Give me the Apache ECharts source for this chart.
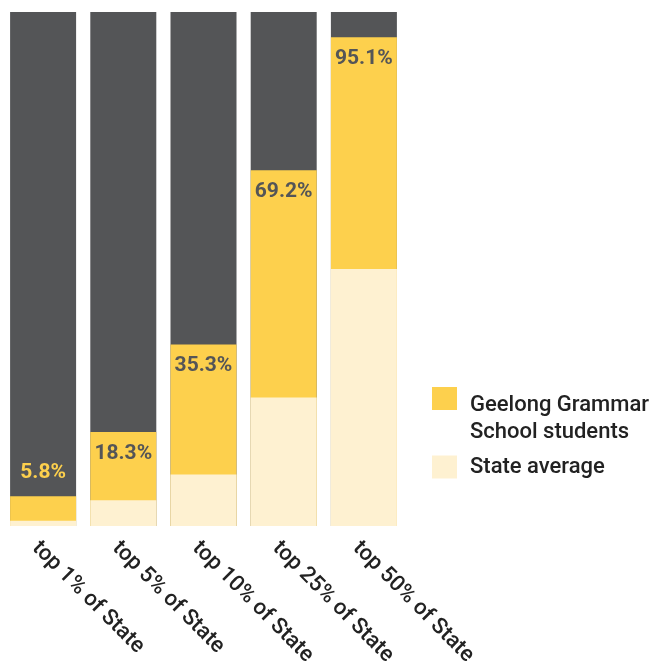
<!DOCTYPE html>
<html>
<head>
<meta charset="utf-8">
<script src="https://cdn.jsdelivr.net/npm/echarts@6/dist/echarts.min.js"></script>
<style>
  html, body { margin: 0; padding: 0; background: #fff; }
  #chart { width: 651px; height: 664px; }
</style>
</head>
<body>
<div id="chart"></div>
<script>
var categories = ['top 1% of State', 'top 5% of State', 'top 10% of State', 'top 25% of State', 'top 50% of State'];
var schoolValues = [5.8, 18.3, 35.3, 69.2, 95.1];
var stateValues = [1, 5, 10, 25, 50];
var fullValues = [100, 100, 100, 100, 100];
var legendNames = ['Geelong Grammar School students', 'State average'];

var DARK = '#545557';
var YELLOW = '#FDD04D';
var CREAM = '#FEF1D1';

var chart = echarts.init(document.getElementById('chart'));

// yellow label sits above the bar when the bar is too short to hold it
var schoolData = schoolValues.map(function (v) {
  if (v < 10) {
    return { value: v, label: { position: 'top', color: YELLOW, distance: 13 } };
  }
  return v;
});

var option = {
  animation: false,
  grid: { left: 3, right: 247, top: 12, bottom: 138, outerBoundsMode: 'none' },
  legend: {
    orient: 'vertical',
    left: 427,
    top: 366,
    itemWidth: 25,
    itemHeight: 23,
    itemGap: 12,
    icon: 'rect',
    data: legendNames,
    // an empty first row pushes the two-line name down so it hangs from the swatch
    formatter: function (name) {
      if (name === legendNames[0]) {
        return '{e| }\n{a|Geelong Grammar}\n{a|School students}';
      }
      return '{a|' + name + '}';
    },
    textStyle: {
      rich: {
        e: { fontSize: 1, lineHeight: 41 },
        a: {
          fontFamily: 'Roboto',
          fontWeight: 500,
          fontSize: 22,
          color: '#222',
          lineHeight: 27,
          padding: [0, 0, 0, 8]
        }
      }
    }
  },
  xAxis: {
    type: 'category',
    data: categories,
    axisLine: { show: false },
    axisTick: { show: false },
    axisLabel: {
      rotate: -45,
      margin: 11,
      interval: 0,
      verticalAlign: 'top',
      fontFamily: 'Roboto',
      fontWeight: 500,
      fontSize: 22,
      color: '#222'
    }
  },
  yAxis: {
    type: 'value',
    min: 0,
    max: 100,
    show: false
  },
  series: [
    {
      name: 'all',
      type: 'bar',
      barWidth: 66,
      barGap: '-100%',
      itemStyle: { color: DARK },
      data: fullValues,
      silent: true
    },
    {
      name: legendNames[0],
      type: 'bar',
      barWidth: 66,
      barGap: '-100%',
      itemStyle: { color: YELLOW },
      label: {
        show: true,
        position: 'insideTop',
        distance: 11,
        formatter: '{c}%',
        fontFamily: 'Roboto',
        fontWeight: 'bold',
        fontSize: 21,
        color: DARK
      },
      data: schoolData
    },
    {
      name: legendNames[1],
      type: 'bar',
      barWidth: 66,
      barGap: '-100%',
      itemStyle: { color: CREAM },
      data: stateValues
    }
  ]
};

chart.setOption(option);
</script>
</body>
</html>
